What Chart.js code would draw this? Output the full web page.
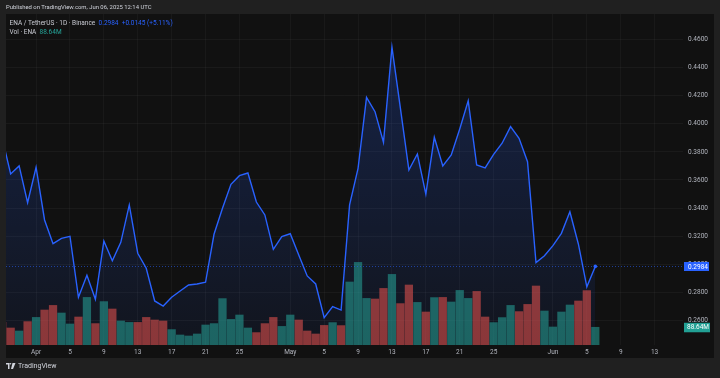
<!DOCTYPE html>
<html>
<head>
<meta charset="utf-8">
<script src="https://cdn.jsdelivr.net/npm/chart.js@4.4.1/dist/chart.umd.min.js"></script>
<style>
  html, body { margin: 0; padding: 0; background: #202020; }
  body { width: 720px; height: 378px; position: relative; overflow: hidden; font-family: Roboto, "Liberation Sans", sans-serif; }
  #pane { position: absolute; left: 6px; top: 14px; width: 708px; height: 344px; background: #111111; }
  #myChart { position: absolute; left: 0; top: 0; }
  .txt { position: absolute; white-space: nowrap; font-size: 6.5px; line-height: 8px; color: #d1d4dc; }
  #published { left: 6px; top: 3px; font-size: 5.9px; }
  #title { left: 9.5px; top: 19px; color: #c8cad2; }
  #title .blue { color: #2962ff; }
  #vol { left: 9.5px; top: 28px; color: #c8cad2; }
  #vol .teal { color: #26a69a; }
  #logo { left: 6px; top: 362px; font-size: 7px; display: flex; align-items: center; }
  #logo svg { margin-right: 2px; }
</style>
</head>
<body>
<div id="pane"></div>
<canvas id="myChart" width="720" height="378"></canvas>
<div class="txt" id="published">Published on TradingView.com, Jun 06, 2025 12:14 UTC</div>
<div class="txt" id="title">ENA / TetherUS · 1D · Binance&nbsp; <span class="blue">0.2984&nbsp; +0.0145 (+5.11%)</span></div>
<div class="txt" id="vol">Vol · ENA&nbsp; <span class="teal">88.64M</span></div>
<div class="txt" id="logo">
  <svg width="10" height="6" viewBox="0 0 20 12"><path d="M0 0h7v12H4V3H0z M9 0a1.6 1.6 0 1 1 0 3.2A1.6 1.6 0 1 1 9 0z M13 0h6l-5 12h-4z" fill="#d1d4dc"/></svg>
  <span>TradingView</span>
</div>
<script>
// Données ENA / USDT, journalier
const dates = [
  '2025-03-28','2025-03-29','2025-03-30','2025-03-31',
  '2025-04-01','2025-04-02','2025-04-03','2025-04-04','2025-04-05','2025-04-06','2025-04-07','2025-04-08','2025-04-09','2025-04-10',
  '2025-04-11','2025-04-12','2025-04-13','2025-04-14','2025-04-15','2025-04-16','2025-04-17','2025-04-18','2025-04-19','2025-04-20',
  '2025-04-21','2025-04-22','2025-04-23','2025-04-24','2025-04-25','2025-04-26','2025-04-27','2025-04-28','2025-04-29','2025-04-30',
  '2025-05-01','2025-05-02','2025-05-03','2025-05-04','2025-05-05','2025-05-06','2025-05-07','2025-05-08','2025-05-09','2025-05-10',
  '2025-05-11','2025-05-12','2025-05-13','2025-05-14','2025-05-15','2025-05-16','2025-05-17','2025-05-18','2025-05-19','2025-05-20',
  '2025-05-21','2025-05-22','2025-05-23','2025-05-24','2025-05-25','2025-05-26','2025-05-27','2025-05-28','2025-05-29','2025-05-30','2025-05-31',
  '2025-06-01','2025-06-02','2025-06-03','2025-06-04','2025-06-05','2025-06-06'
];

const closes = [
  0.3899, 0.3643, 0.3700, 0.3438,
  0.3691, 0.3315, 0.3146, 0.3184, 0.3199, 0.2764, 0.2921, 0.2750, 0.3165, 0.3025,
  0.3156, 0.3422, 0.3078, 0.2971, 0.2738, 0.2702, 0.2764, 0.2809, 0.2852, 0.2859,
  0.2871, 0.3213, 0.3398, 0.3569, 0.3631, 0.3650, 0.3443, 0.3351, 0.3106, 0.3196,
  0.3217, 0.3065, 0.2916, 0.2859, 0.2619, 0.2697, 0.2673, 0.3422, 0.3683, 0.4189,
  0.4087, 0.3869, 0.4546, 0.4111, 0.3671, 0.3785, 0.3500, 0.3904, 0.3700, 0.3778,
  0.3964, 0.4165, 0.3707, 0.3686, 0.3783, 0.3862, 0.3980, 0.3897, 0.3730, 0.3011, 0.3060,
  0.3132, 0.3220, 0.3374, 0.3144, 0.2839, 0.2984
];

// volumes en millions
const volumes = [
  113, 85, 70, 117,
  138, 175, 198, 160, 105, 140, 238, 107, 217, 180,
  120, 113, 113, 138, 125, 120, 77, 50, 45, 55,
  100, 107, 232, 128, 150, 85, 62, 107, 138, 93,
  150, 125, 70, 55, 98, 112, 97, 315, 413, 233,
  230, 283, 353, 207, 300, 213, 165, 237, 238, 215,
  273, 233, 268, 140, 112, 137, 198, 167, 203, 295, 170,
  90, 165, 200, 220, 272, 88.64
];
const firstOpen = 0.4010;

// graduations (jours depuis le 1er avril)
const tickDays = [0, 4, 8, 12, 16, 20, 24, 30, 34, 38, 42, 46, 50, 54, 61, 65, 69, 73];
const tickLabels = ['Apr', '5', '9', '13', '17', '21', '25', 'May', '5', '9', '13', '17', '21', '25', 'Jun', '5', '9', '13'];
const priceTicks = [0.26, 0.28, 0.30, 0.32, 0.34, 0.36, 0.38, 0.40, 0.42, 0.44, 0.46];

const origin = Date.parse('2025-04-01');
const dayOf = d => (Date.parse(d) - origin) / 864e5;

const upColor = 'rgba(38,166,154,0.55)';
const downColor = 'rgba(239,83,80,0.55)';
const barColors = closes.map((c, i) => c >= (i === 0 ? firstOpen : closes[i - 1]) ? upColor : downColor);

const lastPrice = closes[closes.length - 1];
const lastVol = volumes[volumes.length - 1];

const tickFont = { family: 'Roboto, "Liberation Sans", sans-serif', size: 6.5 };

// ligne pointillée + étiquettes du dernier prix / volume
const lastValuePlugin = {
  id: 'lastValue',
  afterDatasetsDraw(chart) {
    const { ctx, chartArea, scales } = chart;
    const yp = Math.round(scales.y.getPixelForValue(lastPrice)) + 0.5;
    ctx.save();
    ctx.strokeStyle = 'rgba(41,98,255,0.55)';
    ctx.lineWidth = 1;
    ctx.setLineDash([1, 2]);
    ctx.beginPath();
    ctx.moveTo(chartArea.left, yp);
    ctx.lineTo(chartArea.right, yp);
    ctx.stroke();
    ctx.setLineDash([]);

    ctx.font = '6.5px Roboto, "Liberation Sans", sans-serif';
    ctx.textBaseline = 'middle';
    ctx.textAlign = 'left';
    ctx.fillStyle = '#2962ff';
    ctx.fillRect(chartArea.right + 1, yp - 4.5, 25, 9);
    ctx.fillStyle = '#ffffff';
    ctx.fillText(lastPrice.toFixed(4), chartArea.right + 5, yp + 0.5);

    const yv = scales.vol.getPixelForValue(lastVol);
    ctx.fillStyle = '#22a094';
    ctx.fillRect(chartArea.right + 1, yv - 4.5, 26, 9.5);
    ctx.fillStyle = '#ffffff';
    ctx.fillText(lastVol.toFixed(2) + 'M', chartArea.right + 4, yv + 0.5);
    ctx.restore();
  }
};

const ctx = document.getElementById('myChart').getContext('2d');
new Chart(ctx, {
  data: {
    datasets: [
      {
        type: 'bar',
        label: 'Vol',
        data: dates.map((d, i) => ({ x: dayOf(d), y: volumes[i] })),
        yAxisID: 'vol',
        backgroundColor: barColors,
        borderWidth: 0,
        barThickness: 7.6,
        order: 1
      },
      {
        type: 'line',
        label: 'ENA / TetherUS',
        data: dates.map((d, i) => ({ x: dayOf(d), y: closes[i] })),
        yAxisID: 'y',
        borderColor: '#2962ff',
        borderWidth: 1.4,
        tension: 0,
        pointRadius: c => c.dataIndex === closes.length - 1 ? 1.8 : 0,
        pointBackgroundColor: '#2962ff',
        pointBorderWidth: 0,
        fill: 'start',
        backgroundColor: c => {
          const area = c.chart.chartArea;
          if (!area) return 'rgba(41,98,255,0.12)';
          const g = c.chart.ctx.createLinearGradient(0, area.top, 0, area.bottom);
          g.addColorStop(0, 'rgba(41,98,255,0.24)');
          g.addColorStop(1, 'rgba(41,98,255,0.06)');
          return g;
        },
        clip: 0,
        order: 2
      }
    ]
  },
  options: {
    responsive: false,
    animation: false,
    devicePixelRatio: 1,
    layout: { padding: { left: 6, top: 14, right: 6, bottom: 20 } },
    plugins: { legend: { display: false }, tooltip: { enabled: false } },
    scales: {
      x: {
        type: 'linear',
        offset: false,
        min: -3.55,
        max: 76.35,
        afterBuildTicks: s => { s.ticks = tickDays.map(v => ({ value: v })); },
        afterFit: s => { s.height = 13; },
        grid: { color: 'rgba(255,255,255,0.035)', drawTicks: false, offset: false },
        border: { display: false },
        ticks: {
          autoSkip: false,
          maxRotation: 0,
          padding: 3.5,
          color: '#b2b5be',
          font: tickFont,
          callback: v => tickLabels[tickDays.indexOf(v)]
        }
      },
      y: {
        position: 'right',
        min: 0.2424,
        max: 0.4783,
        afterBuildTicks: s => { s.ticks = priceTicks.map(v => ({ value: v })); },
        afterFit: s => { s.width = 31; },
        grid: { color: 'rgba(255,255,255,0.04)', drawTicks: false },
        border: { display: false },
        ticks: {
          padding: 5,
          color: '#b2b5be',
          font: tickFont,
          callback: v => v.toFixed(4)
        }
      },
      vol: {
        display: false,
        min: 0,
        max: 1655
      }
    }
  },
  plugins: [lastValuePlugin]
});
</script>
</body>
</html>
